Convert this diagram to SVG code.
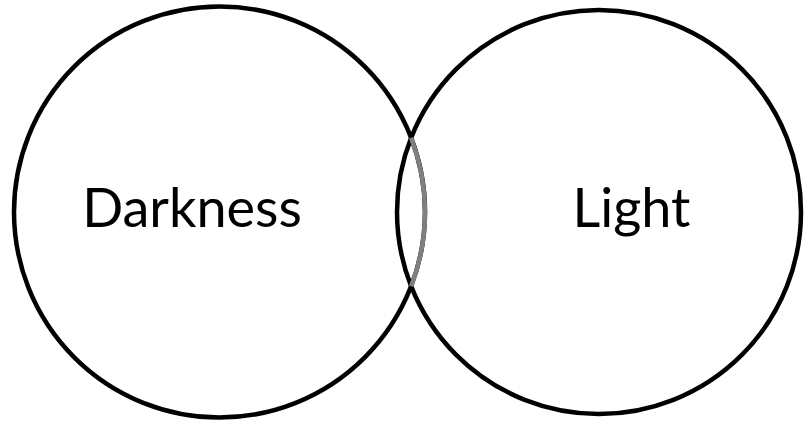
<svg xmlns="http://www.w3.org/2000/svg" width="804" height="421" viewBox="0 0 804 421">
<style>
.c{fill:none;stroke:#000;stroke-width:4.5}
.g{fill:none;stroke:#808080;stroke-width:4.5}
.t{font-family:Lato,"Open Sans",sans-serif;font-size:54px;fill:#000;text-anchor:middle}
</style>
<rect width="804" height="421" fill="#fff"/>
<g id="darkness">
<circle class="c" cx="219.5" cy="212" r="205.5"/>
<text class="t" x="192" y="227">Darkness</text>
</g>
<g id="light">
<circle class="c" cx="599" cy="212" r="202"/>
<text class="t" x="631.5" y="227">Light</text>
</g>
<g id="connectors">
<path class="g" d="M411.1 137.7 A205.5 205.5 0 0 1 411.1 286.3"/>
</g>
</svg>
